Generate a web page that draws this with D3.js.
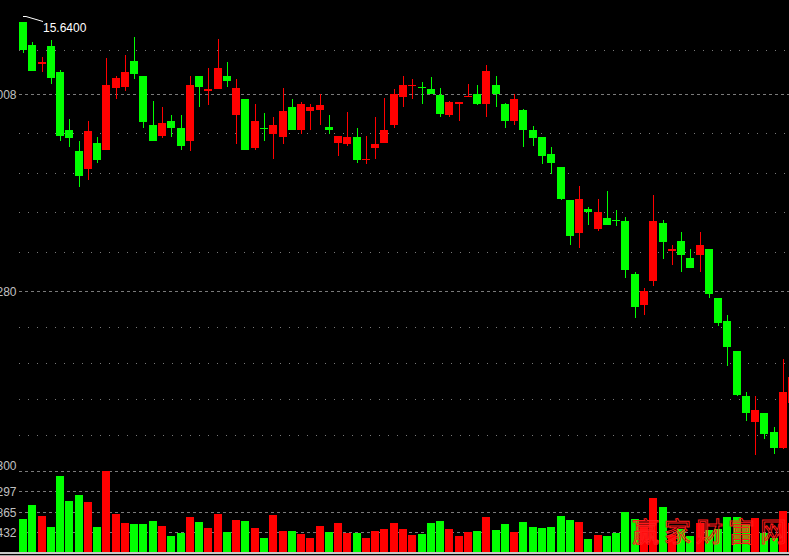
<!DOCTYPE html>
<html><head><meta charset="utf-8">
<script src="https://cdn.jsdelivr.net/npm/d3@7/dist/d3.min.js"></script>
<style>html,body{margin:0;padding:0;background:#000;overflow:hidden}</style>
</head><body><svg id="c" width="789" height="556"></svg>
<script>
// ---- data ----
const opens  = [15.64,15.44,15.27,15.43,15.20,14.69,14.51,14.35,14.58,14.52,15.06,15.07,15.30,15.17,14.74,14.64,14.77,14.71,14.60,15.17,
                15.03,15.05,15.17,14.82,14.96,14.53,14.71,14.66,14.63,14.89,14.69,14.86,14.87,14.72,14.58,14.57,14.63,14.43,14.53,14.58,
                14.74,14.98,15.08,15.07,15.05,15.00,14.82,14.92,14.98,15.01,14.92,15.09,14.92,14.77,14.87,14.69,14.63,14.48,14.37,14.08,
                13.79,14.00,13.82,13.92,13.90,13.89,13.43,13.16,13.37,13.88,13.63,13.72,13.57,13.60,13.65,13.22,13.02,12.75,12.36,12.13,
                12.21,12.04,11.90,12.30];
const highs  = [15.64,15.46,15.33,15.48,15.22,14.79,14.60,14.77,14.63,15.32,15.17,15.35,15.51,15.17,14.95,14.89,14.82,14.82,15.17,15.17,
                15.24,15.49,15.29,15.14,14.96,14.92,14.84,14.81,15.06,14.96,14.94,14.92,15.01,14.82,14.64,14.85,14.71,14.64,14.81,14.97,
                15.05,15.17,15.14,15.11,15.16,15.06,14.95,14.94,15.10,15.09,15.26,15.17,14.93,15.01,14.88,14.73,14.63,14.54,14.37,14.08,
                14.20,14.02,14.09,14.16,13.99,13.93,13.45,13.31,14.12,13.90,13.68,13.80,13.65,13.80,13.65,13.22,13.07,12.75,12.39,12.36,
                12.21,12.09,12.68,12.57];
const lows   = [15.37,15.21,15.20,15.10,14.60,14.54,14.19,14.25,14.40,14.52,14.96,15.03,15.14,14.71,14.60,14.62,14.63,14.52,14.51,14.89,
                14.91,15.05,15.07,14.57,14.52,14.52,14.60,14.44,14.57,14.69,14.66,14.69,14.74,14.66,14.46,14.55,14.40,14.39,14.44,14.58,
                14.71,14.89,14.96,14.92,15.01,14.81,14.81,14.77,14.98,14.91,14.81,14.89,14.71,14.74,14.54,14.55,14.39,14.31,14.08,13.68,
                13.66,13.86,13.81,13.86,13.85,13.39,13.04,13.07,13.32,13.56,13.51,13.45,13.48,13.45,13.22,12.97,12.62,12.36,12.14,11.84,
                11.98,11.85,11.89,12.27];
const closes = [15.39,15.21,15.29,15.15,14.64,14.62,14.29,14.68,14.43,15.09,15.15,15.20,15.18,14.76,14.60,14.75,14.71,14.55,15.09,15.07,
                15.05,15.24,15.12,15.06,14.52,14.77,14.70,14.74,14.86,14.69,14.92,14.89,14.91,14.69,14.64,14.63,14.43,14.44,14.57,14.69,
                15.01,15.09,15.09,15.06,15.01,14.83,14.94,14.94,14.99,14.92,15.21,15.01,14.77,14.96,14.69,14.62,14.46,14.40,14.09,13.76,
                14.09,13.97,13.97,13.86,13.89,13.46,13.14,13.28,13.89,13.71,13.65,13.60,13.48,13.68,13.25,13.00,12.79,12.37,12.21,12.24,
                12.03,11.90,12.39,12.53];
const volumes = [20260,28856,22102,15349,46660,31311,34995,30698,15349,49730,23330,17805,17191,17191,19032,15963,9823,11665,21488,18419,
                 14735,23330,12279,19646,19032,14735,8595,22716,12893,12893,11051,8595,15963,12279,17805,11665,11665,8595,12893,14121,
                 17805,14121,10437,11051,17805,19032,14121,9823,12279,12893,21488,13507,17191,12279,18419,15349,14735,15349,22102,19646,
                 18419,7981,10437,9823,11665,24558,20260,15349,33153,27628,10437,14121,9823,17805,13507,14121,21488,21488,16577,20874,
                 11665,8595,25172,17805];
const priceMajorTicks  = [15.008, 13.280];
const priceMajorLabels = ["15.008", "13.280"];
const priceMinorTicks  = [15.394, 14.663, 14.312, 13.970, 13.619, 12.962, 12.646, 12.330, 12.014];
const volumeTicks      = [49730, 37297, 24865, 12432];
const volumeTickLabels = ["49300", "37297", "24865", "12432"];
const maxPriceLabel = "15.6400";
const watermark = "赢家财富网";

// ---- drawing ----
const W = 789, H = 556;
const svg = d3.select("#c");
svg.append("rect").attr("width", W).attr("height", H).attr("fill", "#000");

const x  = d3.scaleLinear().domain([0, 82]).range([23, 783]);
const y  = d3.scaleLinear().domain([13.280, 15.008]).range([291, 94]);
const yv = d3.scaleLinear().domain([0, 49730]).range([552, 471]);

const RED = "#ff0000", GREEN = "#00ff00", GRID = "#7a7a7a", LABEL = "#c0c0c0";
const gx0 = 19;

// grid
const g = svg.append("g");
g.selectAll(".minor").data(priceMinorTicks).join("line")
  .attr("x1", gx0).attr("x2", W)
  .attr("y1", d => Math.round(y(d)) + 0.5).attr("y2", d => Math.round(y(d)) + 0.5)
  .attr("stroke", GRID).attr("stroke-width", 1).attr("stroke-dasharray", "1,8");
g.selectAll(".major").data(priceMajorTicks).join("line")
  .attr("x1", gx0).attr("x2", W)
  .attr("y1", d => Math.round(y(d)) + 0.5).attr("y2", d => Math.round(y(d)) + 0.5)
  .attr("stroke", GRID).attr("stroke-width", 1).attr("stroke-dasharray", "3,3");
g.selectAll(".vgrid").data(volumeTicks).join("line")
  .attr("x1", gx0).attr("x2", W)
  .attr("y1", d => Math.round(yv(d)) + 0.5).attr("y2", d => Math.round(yv(d)) + 0.5)
  .attr("stroke", GRID).attr("stroke-width", 1).attr("stroke-dasharray", "3,3");

const data = opens.map((o, i) => ({i, o, h: highs[i], l: lows[i], c: closes[i], v: volumes[i]}));
const col = d => d.c > d.o ? RED : GREEN;

// volume bars
svg.append("g").selectAll("rect").data(data).join("rect")
  .attr("x", d => Math.round(x(d.i)) - 4)
  .attr("width", 8)
  .attr("y", d => Math.round(yv(d.v)))
  .attr("height", d => Math.round(yv(0)) - Math.round(yv(d.v)))
  .attr("fill", col);

// candles
const cg = svg.append("g");
cg.selectAll(".wick").data(data).join("rect")
  .attr("x", d => Math.round(x(d.i)))
  .attr("width", 1)
  .attr("y", d => Math.round(y(d.h)))
  .attr("height", d => Math.max(1, Math.round(y(d.l)) - Math.round(y(d.h))))
  .attr("fill", col);
cg.selectAll(".body").data(data).join("rect")
  .attr("x", d => Math.round(x(d.i)) - 4)
  .attr("width", 8)
  .attr("y", d => Math.round(y(Math.max(d.o, d.c))))
  .attr("height", d => Math.max(1, Math.round(y(Math.min(d.o, d.c))) - Math.round(y(Math.max(d.o, d.c)))))
  .attr("fill", col);

// labels
const font = "'Liberation Sans', Arial, sans-serif";
svg.append("g").selectAll("text").data(priceMajorTicks).join("text")
  .attr("x", 16.5).attr("y", d => Math.round(y(d)) + 4.5)
  .attr("text-anchor", "end").attr("fill", LABEL)
  .style("font-family", font).style("font-size", "12px")
  .text((d, i) => priceMajorLabels[i]);
svg.append("g").selectAll("text").data(volumeTicks).join("text")
  .attr("x", 16.5).attr("y", (d, i) => i === 0 ? Math.round(yv(d)) - 1 : Math.round(yv(d)) + 4.5)
  .attr("text-anchor", "end").attr("fill", LABEL)
  .style("font-family", font).style("font-size", "12px")
  .text((d, i) => volumeTickLabels[i]);

// max price annotation
const maxIdx = d3.maxIndex(highs);
const ax = Math.round(x(maxIdx)), ay = 16.5;
svg.append("path")
  .attr("d", `M${ax},${ay} L${ax + 3},${ay} L${ax + 20},${ay + 5}`)
  .attr("fill", "none").attr("stroke", "#fff").attr("stroke-width", 1);
svg.append("text").attr("x", ax + 20).attr("y", 32)
  .attr("fill", "#fff").style("font-family", font).style("font-size", "12px")
  .text(maxPriceLabel);

// bottom border
svg.append("rect").attr("x", 0).attr("y", 552).attr("width", W).attr("height", 2).attr("fill", "#c8c8c8");
svg.append("rect").attr("x", 0).attr("y", 555).attr("width", W).attr("height", 1).attr("fill", "#a8a8a8");

// watermark
svg.append("text").attr("x", 632).attr("y", 542)
  .attr("fill", "none").attr("stroke", "#ff1a1a").attr("stroke-width", 1)
  .style("font-family", "'Noto Sans CJK SC', sans-serif").style("font-size", "27px")
  .style("letter-spacing", "5px")
  .text(watermark);
</script></body></html>
